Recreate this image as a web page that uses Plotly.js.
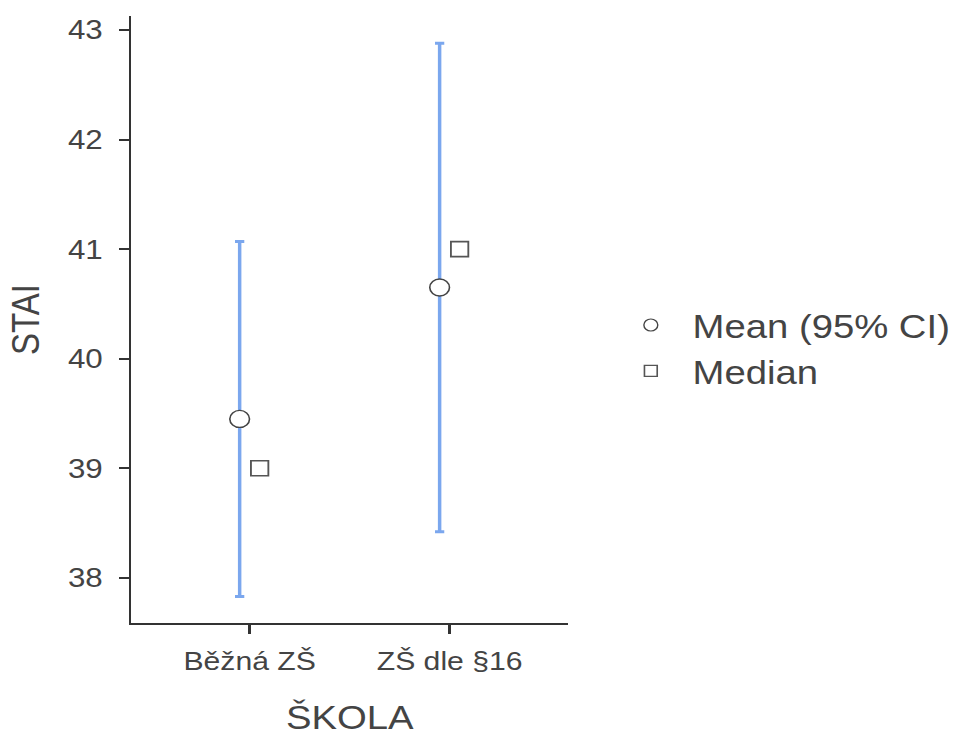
<!DOCTYPE html>
<html>
<head>
<meta charset="utf-8">
<script src="https://cdn.plot.ly/plotly-3.0.1.min.js"></script>
<style>
html, body { margin: 0; padding: 0; overflow: hidden; background: #fff; }
#plot { width: 830px; height: 736px; transform: scaleX(1.16); transform-origin: 0 0; }
</style>
</head>
<body>
<div id="plot"></div>
<script>
// Data
const categories = ['Běžná ZŠ', 'ZŠ dle §16'];
const means = [39.45, 40.65];
const ciLower = [37.83, 38.42];
const ciUpper = [41.07, 42.88];
const medians = [39, 41];
const yTicks = [38, 39, 40, 41, 42, 43];

const idx = categories.map((_, i) => i);
const meanX = idx.map(i => i - 0.05);
const medX = idx.map(i => i + 0.05);
const errPlus = means.map((m, i) => ciUpper[i] - m);
const errMinus = means.map((m, i) => m - ciLower[i]);

const font = 'Liberation Sans, Arial, sans-serif';
const txt = '#444444';

const traces = [
  {
    type: 'scatter', mode: 'markers', x: meanX, y: means, showlegend: false,
    hoverinfo: 'skip',
    marker: { symbol: 'circle', size: 17, color: '#ffffff', line: { color: '#444444', width: 1.4 } },
    error_y: { type: 'data', symmetric: false, array: errPlus, arrayminus: errMinus,
               color: '#7BA7EE', thickness: 3, width: 4 }
  },
  {
    type: 'scatter', mode: 'markers', x: medX, y: medians, showlegend: false,
    hoverinfo: 'skip',
    marker: { symbol: 'square', size: 15, color: '#ffffff', line: { color: '#555555', width: 1.6 } }
  },
  {
    type: 'scatter', mode: 'markers', x: [null], y: [null], name: 'Mean (95% CI)',
    marker: { symbol: 'circle', size: 12, color: '#ffffff', line: { color: '#444444', width: 1.2 } }
  },
  {
    type: 'scatter', mode: 'markers', x: [null], y: [null], name: 'Median',
    marker: { symbol: 'square', size: 11, color: '#ffffff', line: { color: '#555555', width: 1.4 } }
  }
];

const layout = {
  width: 830, height: 736,
  margin: { l: 112.7, r: 340.3, t: 16, b: 112.7, autoexpand: false },
  paper_bgcolor: '#ffffff', plot_bgcolor: '#ffffff',
  font: { family: font, color: txt },
  xaxis: {
    range: [-0.593, 1.594], tickvals: idx, ticktext: categories,
    showgrid: false, zeroline: false, showline: true, linecolor: '#333333', linewidth: 2,
    ticks: 'outside', ticklen: 9, tickwidth: 2, tickcolor: '#333333',
    ticklabelstandoff: 5,
    tickfont: { size: 26, color: txt, family: font },
    title: { text: 'ŠKOLA', font: { size: 33, color: txt, family: font }, standoff: 31 }
  },
  yaxis: {
    range: [37.587, 43.128], tickvals: yTicks,
    showgrid: false, zeroline: false, showline: true, linecolor: '#333333', linewidth: 2,
    ticks: 'outside', ticklen: 8, tickwidth: 2, tickcolor: '#333333',
    ticklabelstandoff: 9,
    tickfont: { size: 27, color: txt, family: font },
    title: { text: 'STAI', font: { size: 33, color: txt, family: font }, standoff: 14 }
  },
  showlegend: true,
  legend: {
    x: 1.093, xanchor: 'left', y: 0.537, yanchor: 'top',
    font: { size: 33, color: txt, family: font },
    itemwidth: 62, tracegroupgap: 0, bgcolor: 'rgba(0,0,0,0)'
  }
};

Plotly.newPlot('plot', traces, layout, { displayModeBar: false, staticPlot: true });
</script>
</body>
</html>
